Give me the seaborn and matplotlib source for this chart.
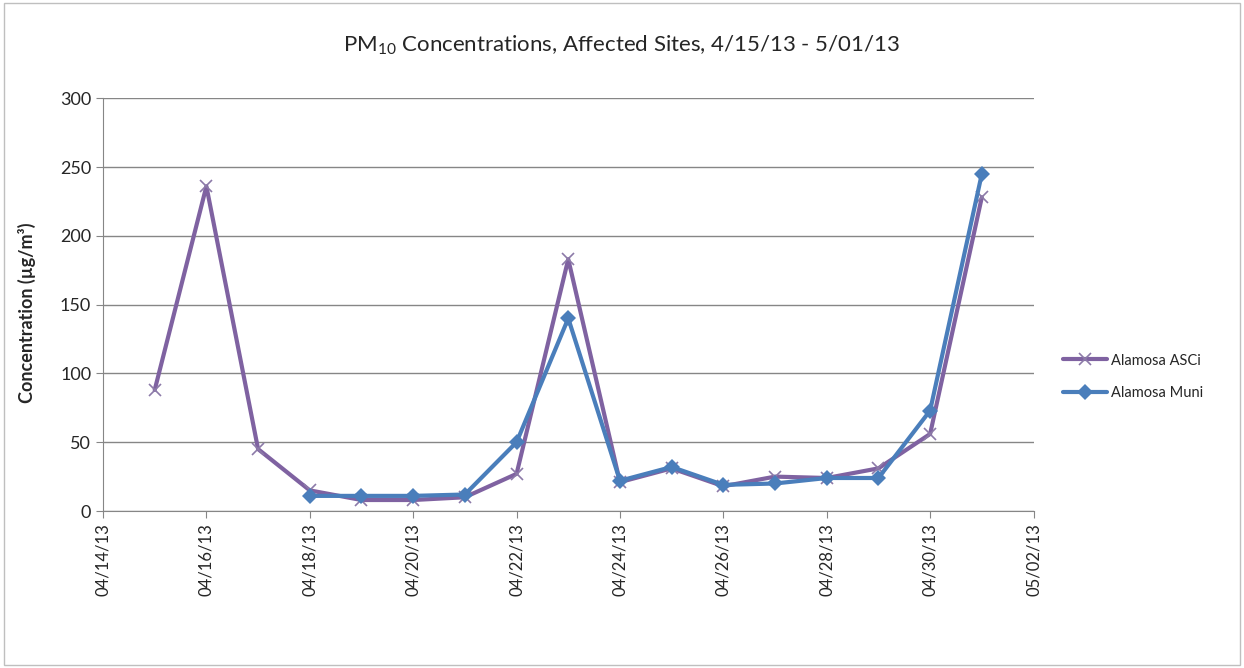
import pandas as pd
import matplotlib.pyplot as plt
import matplotlib.dates as mdates
import seaborn as sns

# values
asci_dates = pd.date_range('2013-04-15', '2013-05-01', freq='D')
asci_vals = [88, 236, 45, 15, 8, 8, 10, 27, 183, 21, 31, 18, 25, 24, 31, 56, 228]
muni_dates = pd.date_range('2013-04-18', '2013-05-01', freq='D')
muni_vals = [11, 11, 11, 12, 50, 140, 22, 32, 19, 20, 24, 24, 73, 245]

asci = pd.DataFrame({'date': asci_dates, 'conc': asci_vals})
muni = pd.DataFrame({'date': muni_dates, 'conc': muni_vals})

sns.set_style('white')
plt.rcParams['font.family'] = ['Lato', 'DejaVu Sans']
plt.rcParams['mathtext.fontset'] = 'custom'
plt.rcParams['mathtext.rm'] = 'Lato'

fig = plt.figure(figsize=(12.44, 6.68), dpi=100)
ax = fig.add_axes([0.0828, 0.235, 0.748, 0.618])

sns.lineplot(data=asci, x='date', y='conc', color='#7F62A1', marker='x',
             linewidth=3, markersize=9, markeredgewidth=1.2,
             markeredgecolor='#8C7AA8', label='Alamosa ASCi', ax=ax)
sns.lineplot(data=muni, x='date', y='conc', color='#4A7EBB', marker='D',
             linewidth=3, markersize=8, markeredgewidth=0,
             label='Alamosa Muni', ax=ax)

ax.set_xlim(pd.Timestamp('2013-04-14'), pd.Timestamp('2013-05-02'))
ax.set_ylim(0, 300)
ax.set_yticks(range(0, 301, 50))
ax.xaxis.set_major_locator(mdates.DayLocator(interval=2))
ax.xaxis.set_major_formatter(mdates.DateFormatter('%m/%d/%y'))
plt.setp(ax.get_xticklabels(), rotation=90)
ax.tick_params(axis='both', length=5, color='#868686', direction='out',
               bottom=True, left=True)
ax.tick_params(axis='y', labelsize=13)
ax.tick_params(axis='x', labelsize=12)
ax.grid(axis='y', color='#868686', linewidth=1)
sns.despine(ax=ax)
for s in ['left', 'bottom']:
    ax.spines[s].set_color('#868686')

ax.set_xlabel('')
ax.set_ylabel('Concentration (µg/m³)', fontsize=13, fontweight='bold')
ax.yaxis.set_label_coords(-0.072, 0.48)
fig.text(0.5, 0.932, r'PM$_{10}$ Concentrations, Affected Sites, 4/15/13 - 5/01/13',
         ha='center', va='center', fontsize=16)

ax.legend(loc='center left', bbox_to_anchor=(1050 / 1244, 1 - 377 / 668),
          bbox_transform=fig.transFigure, frameon=False, fontsize=10.5,
          handlelength=3, labelspacing=1.3, handletextpad=0.3)

fig.patches.append(plt.Rectangle((0.003, 0.004), 0.994, 0.992, transform=fig.transFigure,
                                 fill=False, edgecolor='#BFBFBF', linewidth=1))

fig.savefig('out.png', dpi=100)
